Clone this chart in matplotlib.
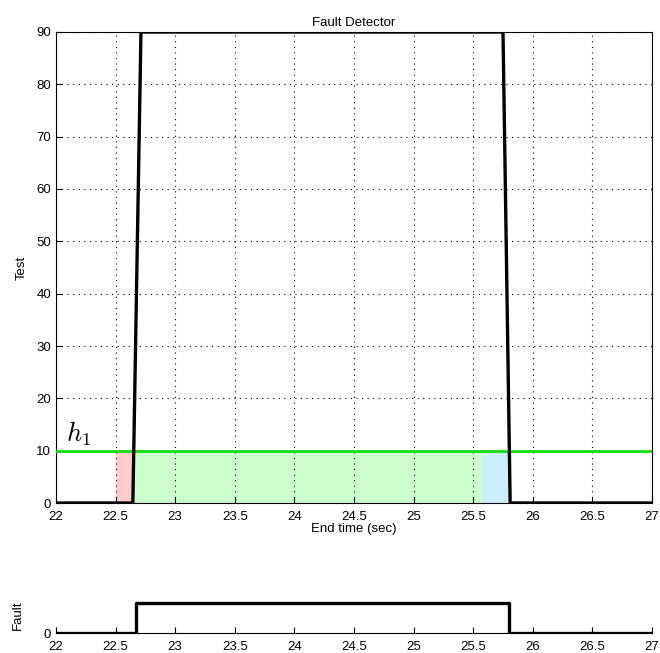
import numpy as np
import matplotlib.pyplot as plt

plt.rcParams['font.family'] = ['Liberation Sans', 'DejaVu Sans']
plt.rcParams['mathtext.fontset'] = 'cm'

# test signal (trapezoid pulse)
t_sig = [22.0, 22.645, 22.713, 25.75, 25.81, 27.0]
test_sig = [0, 0, 90, 90, 0, 0]
threshold = 10

# shaded regions: (start, end, colour)
regions = [(22.5, 22.65, '#ffcccc'), (22.65, 25.57, '#ccffcc'), (25.57, 25.8, '#cceeff')]

# fault indicator
t_fault = [22.0, 22.67, 22.67, 25.8, 25.8, 27.0]
fault = [0, 0, 1, 1, 0, 0]

xticks = [22, 22.5, 23, 23.5, 24, 24.5, 25, 25.5, 26, 26.5, 27]
xticklabels = ['22', '22.5', '23', '23.5', '24', '24.5', '25', '25.5', '26', '26.5', '27']

fs = 9.5

fig = plt.figure(figsize=(6.6, 6.53), dpi=100)
ax = fig.add_axes([0.0848, 0.2297, 0.9031, 0.7213])
for x0, x1, c in regions:
    ax.fill_between([x0, x1], 0, threshold, color=c, lw=0, zorder=1)
ax.plot(t_sig, test_sig, color='black', lw=2.4, zorder=4)
ax.axhline(threshold, color='#11dd11', lw=2, zorder=3)
ax.text(22.08, 11.8, r'$h_1$', fontsize=19)
ax.set_xlim(22, 27)
ax.set_ylim(0, 90)
ax.set_xticks(xticks)
ax.set_xticklabels(xticklabels)
ax.set_yticks(np.arange(0, 91, 10))
ax.grid(True, color='black', linestyle=(0, (1, 4)), lw=0.8)
ax.tick_params(direction='in', labelsize=fs, length=4)
ax.tick_params(axis='x', pad=6)
ax.set_title('Fault Detector', fontsize=fs, pad=4)
ax.set_xlabel('End time (sec)', fontsize=fs, labelpad=0)
ax.set_ylabel('Test', fontsize=fs, labelpad=6)

ax2 = fig.add_axes([0.0848, 0.0306, 0.9031, 0.055])
ax2.plot(t_fault, fault, color='black', lw=2.4)
ax2.set_xlim(22, 27)
ax2.set_ylim(0, 1.2)
ax2.set_xticks(xticks)
ax2.set_xticklabels(xticklabels)
ax2.set_yticks([0])
for s in ['top', 'right', 'left']:
    ax2.spines[s].set_visible(False)
ax2.tick_params(direction='in', labelsize=fs, length=4)
ax2.tick_params(axis='x', pad=6)
ax2.set_ylabel('Fault', fontsize=fs, labelpad=14)

fig.savefig('out.png', dpi=100)
